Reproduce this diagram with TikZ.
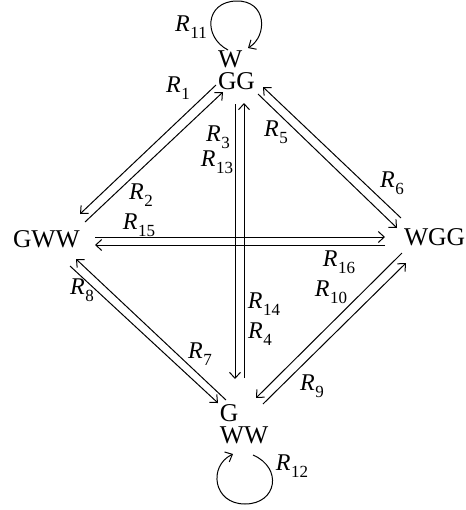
\documentclass[tikz,border=0pt]{standalone}
\usepackage{fontspec}
\setmainfont{Liberation Serif}
\usetikzlibrary{arrows.meta}
\newcommand\lbl[1]{\textit{R}\kern0.3pt\raisebox{-0.28em}{\fontsize{8.5}{8.5}\selectfont #1}}
\begin{document}
\begin{tikzpicture}[x=0.5pt,y=-0.5pt,
  state/.style={inner sep=0pt,outer sep=0pt,font=\fontsize{12.8}{11}\selectfont,align=left},
  rlabel/.style={inner sep=0pt,font=\fontsize{12}{12}\selectfont},
  conn/.style={line width=0.5pt,-{Straight Barb[length=3pt,width=5.5pt]}},
  plain/.style={line width=0.5pt}]
\useasboundingbox (0,0) rectangle (466,510);
% states
\node[state,anchor=north west] (top) at (218,51) {W\\GG};
\node[state,anchor=base west] (gww) at (13,247) {GWW};
\node[state,anchor=base west] (wgg) at (404,245) {WGG};
\node[state,anchor=north west] (bot) at (220,405) {G\\WW};
% connector ends
\coordinate (tl1) at (216,85);  \coordinate (tl2) at (80,214);
\coordinate (tl3) at (85,222);  \coordinate (tl4) at (223,92);
\coordinate (h1) at (95,237);   \coordinate (h2) at (385,237);
\coordinate (h3) at (385,245);  \coordinate (h4) at (95,245);
\coordinate (v1) at (235,104);  \coordinate (v2) at (235,379);
\coordinate (v3) at (244,378);  \coordinate (v4) at (244,103);
\coordinate (tr1) at (401,218); \coordinate (tr2) at (263,87);
\coordinate (tr3) at (258,94);  \coordinate (tr4) at (397,228);
\coordinate (br1) at (263,404); \coordinate (br2) at (406,263);
\coordinate (br3) at (402,253); \coordinate (br4) at (256,398);
\coordinate (bl1) at (70,266);  \coordinate (bl2) at (218,403);
\coordinate (bl3) at (226,400); \coordinate (bl4) at (76,259);
% connectors
\draw[conn] (tl1) -- (tl2);
\draw[conn] (tl3) -- (tl4);
\draw[conn] (h1) -- (h2);
\draw[conn] (h3) -- (h4);
\draw[conn] (v1) -- (v2);
\draw[conn] (v3) -- (v4);
\draw[conn] (tr1) -- (tr2);
\draw[conn] (tr3) -- (tr4);
\draw[conn] (br1) -- (br2);
\draw[conn] (br3) -- (br4);
\draw[conn] (bl1) -- (bl2);
\draw[conn] (bl3) -- (bl4);
% loops
\coordinate (lt1) at (228,50); \coordinate (lt2) at (248,48);
\draw[conn] (lt1) .. controls (203,37) and (205,2) .. (236,1)
  .. controls (267,0) and (268,36) .. (lt2);
\coordinate (lb1) at (253,455); \coordinate (lb2) at (233,454);
\draw[conn] (lb1) .. controls (283,468) and (277,504) .. (245,504)
  .. controls (213,504) and (208,466) .. (lb2);
% labels
\node[rlabel] (r11) at (191,27) {\lbl{11}};
\node[rlabel] (r1) at (178,88) {\lbl{1}};
\node[rlabel] (r2) at (141,195) {\lbl{2}};
\node[rlabel] (r3) at (218,137) {\lbl{3}};
\node[rlabel] (r13) at (217,162) {\lbl{13}};
\node[rlabel] (r5) at (276,132) {\lbl{5}};
\node[rlabel] (r6) at (392,183) {\lbl{6}};
\node[rlabel] (r15) at (139,225) {\lbl{15}};
\node[rlabel] (r16) at (339,262) {\lbl{16}};
\node[rlabel] (r8) at (82,290) {\lbl{8}};
\node[rlabel] (r14) at (264,304) {\lbl{14}};
\node[rlabel] (r4) at (260,334) {\lbl{4}};
\node[rlabel] (r10) at (331,292) {\lbl{10}};
\node[rlabel] (r7) at (200,354) {\lbl{7}};
\node[rlabel] (r9) at (312,386) {\lbl{9}};
\node[rlabel] (r12) at (292,466) {\lbl{12}};
\end{tikzpicture}
\end{document}
